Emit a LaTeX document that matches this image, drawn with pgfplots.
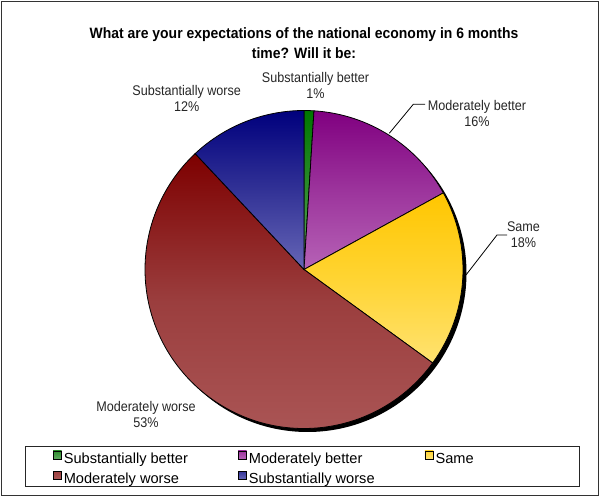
\documentclass[border=0pt]{standalone}
\usepackage{pgfplots}
\usepackage{pgfplotstable}
\pgfplotsset{compat=1.18}
\usepackage{fontspec}
\setmainfont{Liberation Sans}
\newfontfamily\labfont[FakeStretch=0.9]{Liberation Sans}
\newfontfamily\titfont[FakeStretch=0.93]{Liberation Sans}

\definecolor{t0}{RGB}{0,118,0}    \definecolor{m0}{RGB}{45,140,45}   \definecolor{b0}{RGB}{95,170,95}
\definecolor{t1}{RGB}{128,0,128}  \definecolor{m1}{RGB}{156,52,156}  \definecolor{b1}{RGB}{182,98,182}
\definecolor{t2}{RGB}{255,198,0}  \definecolor{m2}{RGB}{255,212,50}  \definecolor{b2}{RGB}{255,226,112}
\definecolor{t3}{RGB}{125,0,0}    \definecolor{m3}{RGB}{155,62,62}   \definecolor{b3}{RGB}{172,88,88}
\definecolor{t4}{RGB}{0,0,125}    \definecolor{m4}{RGB}{50,50,150}   \definecolor{b4}{RGB}{102,102,182}

\pgfplotstableread{
label value
SubstantiallyBetter 1
ModeratelyBetter 16
Same 18
ModeratelyWorse 53
SubstantiallyWorse 12
}\pietable

\begin{document}
\begin{tikzpicture}
\begin{axis}[
  width=600pt, height=497pt, scale only axis,
  xmin=0, xmax=600, ymin=0, ymax=497,
  hide axis, clip=false,
  legend columns=3,
  legend cell align=left,
  legend style={draw=none, fill=none, inner sep=0pt,
    at={(axis cs:52.7,46.4)}, anchor=north west,
    font=\fontsize{14.6}{17}\selectfont,
    nodes={inner sep=0pt, text height=10.7pt, text depth=3.1pt},
    /tikz/every odd column/.append style={column sep=2pt},
    /tikz/every even column/.append style={column sep=50pt},
    row sep=4.4pt},
  legend image code/.code={\draw[#1] (0pt,0.6pt) rectangle (8.5pt,8.6pt);},
]
\addlegendimage{draw=black, top color=m0, bottom color=b0}
\addlegendentry{Substantially better}
\addlegendimage{draw=black, top color=m1, bottom color=b1}
\addlegendentry{Moderately better}
\addlegendimage{draw=black, top color=m2, bottom color=b2}
\addlegendentry{Same}
\addlegendimage{draw=black, top color=m3, bottom color=b3}
\addlegendentry{Moderately worse}
\addlegendimage{draw=black, top color=m4, bottom color=b4}
\addlegendentry{Substantially worse}

\pgfplotsextra{
  \fill[black] (axis cs:307.5,224) circle[radius=159pt];
  \gdef\curang{90}
  \foreach \i in {0,...,4}{
    \pgfplotstablegetelem{\i}{value}\of\pietable
    \pgfmathsetmacro\endang{\curang-3.6*\pgfplotsretval}
    \path[draw=black, line width=0.8pt, top color=t\i, bottom color=b\i, middle color=m\i]
      (axis cs:304,227.5) -- ++(\curang:159pt)
      arc[start angle=\curang, end angle=\endang, radius=159pt] -- cycle;
    \xdef\curang{\endang}
  }
  % title
  \node[font=\titfont\bfseries\fontsize{15}{19.5}\selectfont, align=center]
    at (axis cs:304,453.8) {What are your expectations of the national economy in 6 months\\time? Will it be:};
  % labels
  \tikzset{lab/.style={font=\labfont\fontsize{14}{16}\selectfont, align=center, text=black!85}}
  \node[lab] at (axis cs:315.5,411.3) {Substantially better\\1\%};
  \node[lab] at (axis cs:186.7,399) {Substantially worse\\12\%};
  \node[lab] at (axis cs:477,383) {Moderately better\\16\%};
  \node[lab] at (axis cs:523.5,262) {Same\\18\%};
  \node[lab] at (axis cs:146,82.5) {Moderately worse\\53\%};
  % leader lines
  \draw[line width=0.8pt] (axis cs:425,392.7) -- (axis cs:413.3,392.7) -- (axis cs:389.3,363.7);
  \draw[line width=0.8pt] (axis cs:507,262) -- (axis cs:497,262) -- (axis cs:466,222);
  % legend box
  \draw[line width=1pt, black!85] (axis cs:25.7,50) rectangle (axis cs:579.3,10);
  % outer frame
  \draw[line width=1.3pt, black!80] (axis cs:1.5,1.5) rectangle (axis cs:598.5,495.5);
}
\end{axis}
\pgfresetboundingbox
\path (0,0) rectangle (600pt,497pt);
\end{tikzpicture}
\end{document}
